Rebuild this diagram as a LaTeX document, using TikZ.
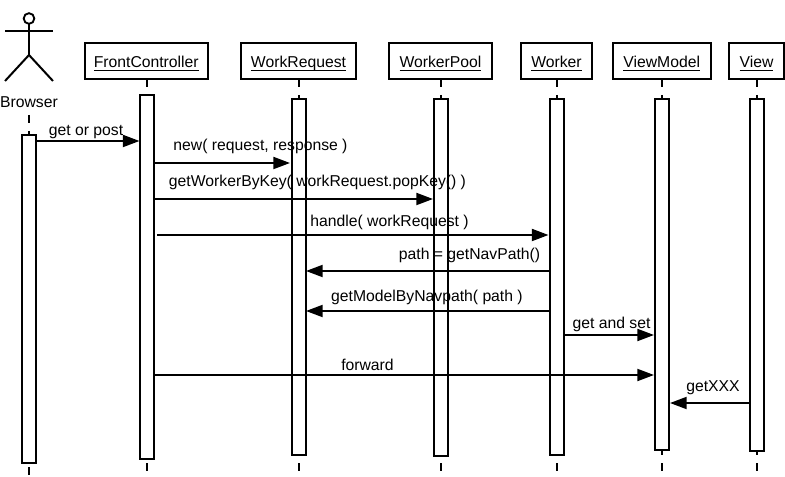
\documentclass[tikz,border=0pt]{standalone}
\usepackage{fontspec}
\setmainfont{Liberation Sans}
\usetikzlibrary{arrows.meta,calc}
\newcommand\ulbl[1]{\setbox0\hbox{#1}\rlap{\rule[-2.4pt]{\wd0}{0.75pt}}\box0}
\newcommand\headbox[5]{% name, left, right, label, name of end coordinate y
  \node[headstyle,minimum width={(#3-#2)*0.75pt}] (#1) at ({(#2+#3)/2},61) {};
  \node[txt] (#1t) at ({(#2+#3)/2},68) {\ulbl{#4}};
}
\newcommand\activation[4]{% name, x, top, bottom
  \node[barstyle,minimum height={(#4-#3)*0.75pt}] (#1) at (#2,{(#3+#4)/2}) {};
}
\tikzset{
  x=0.75pt,y=-0.75pt,
  every node/.style={font=\fontsize{11.8pt}{14pt}\selectfont},
  txt/.style={anchor=base,inner sep=0pt,outer sep=0pt},
  headstyle/.style={draw=black,line width=1.5pt,fill=white,rectangle,minimum height=27pt,inner sep=0pt,outer sep=0pt},
  barstyle/.style={draw=black,line width=1.4pt,fill=white,rectangle,minimum width=10.5pt,inner sep=0pt,outer sep=0pt},
  lifeline/.style={draw=black,line width=0.9pt,dash pattern=on 6pt off 6pt},
  figure/.style={draw=black,line width=1.5pt},
  msg/.style={draw=black,line width=1.5pt,-{Triangle[length=12.5pt,width=9pt]}}
}
\begin{document}
\begin{tikzpicture}
\path[use as bounding box,fill=white] (0,0) rectangle (785,477);
% actor
\node[circle,draw=black,line width=1.4pt,minimum size=8pt,inner sep=0pt,outer sep=0pt] (head) at (29,18.5) {};
\coordinate (neck) at (29,31);
\coordinate (handl) at (5,31);
\coordinate (handr) at (53,31);
\coordinate (hip) at (29,55);
\coordinate (footl) at (5,81);
\coordinate (footr) at (53,81);
\draw[figure] (head.south) -- (hip);
\draw[figure] (handl) -- (handr);
\draw[figure] (footl) -- (hip) -- (footr);
\node[txt] (browsert) at (29,108) {Browser};
% heads
\headbox{fch}{85}{207.5}{FrontController}{}
\headbox{wrh}{241}{356}{WorkRequest}{}
\headbox{wph}{389}{492}{WorkerPool}{}
\headbox{wkh}{521}{592}{Worker}{}
\headbox{vmh}{612.5}{711}{ViewModel}{}
\headbox{vwh}{729}{784}{View}{}
% lifelines
\coordinate (brtop) at (29,115);
\coordinate (brend) at (29,476);
\coordinate (fcend) at (147,472);
\coordinate (wrend) at (299,472);
\coordinate (wpend) at (441,472);
\coordinate (wkend) at (557,472);
\coordinate (vmend) at (662,472);
\coordinate (vwend) at (757,472);
\draw[lifeline] (brtop) -- (brend);
\draw[lifeline] (fcend |- fch.south) -- (fcend);
\draw[lifeline] (wrend |- wrh.south) -- (wrend);
\draw[lifeline] (wpend |- wph.south) -- (wpend);
\draw[lifeline] (wkend |- wkh.south) -- (wkend);
\draw[lifeline] (vmend |- vmh.south) -- (vmend);
\draw[lifeline] (vwend |- vwh.south) -- (vwend);
% activations
\activation{br}{29}{135}{463}
\activation{fc}{147}{95}{459}
\activation{wr}{299}{99}{455}
\activation{wp}{441}{99}{456}
\activation{wk}{557}{99}{455}
\activation{vm}{662}{99}{450}
\activation{vw}{757}{99}{451}
% messages
\draw[msg] (br.east |- 0,141) -- ($(fc.west |- 0,141)+(-0.5,0)$);
\draw[msg] (fc.east |- 0,163) -- ($(wr.west |- 0,163)+(-2,0)$);
\draw[msg] (fc.east |- 0,199) -- ($(wp.west |- 0,199)+(-1,0)$);
\draw[msg] ($(fc.east |- 0,235)+(3,0)$) -- ($(wk.west |- 0,235)+(-1.5,0)$);
\draw[msg] (wk.west |- 0,271) -- (wr.east |- 0,271);
\draw[msg] (wk.west |- 0,311) -- (wr.east |- 0,311);
\draw[msg] (wk.east |- 0,335) -- ($(vm.west |- 0,335)+(-1,0)$);
\draw[msg] (fc.east |- 0,375) -- ($(vm.west |- 0,375)+(-1,0)$);
\draw[msg] (vw.west |- 0,403) -- ($(vm.east |- 0,403)+(1,0)$);
% labels
\node[txt] (l1) at (86,136) {get or post};
\node[txt] (l2) at (260.5,151) {new( request, response )};
\node[txt] (l3) at (317.5,187) {getWorkerByKey( workRequest.popKey() )};
\node[txt] (l4) at (389.5,227) {handle( workRequest )};
\node[txt] (l5) at (469.5,260) {path = getNavPath()};
\node[txt] (l6) at (427,301) {getModelByNavpath( path )};
\node[txt] (l7) at (611.5,328) {get and set};
\node[txt] (l8) at (367.5,370) {forward};
\node[txt] (l9) at (713,391) {getXXX};
\end{tikzpicture}
\end{document}
